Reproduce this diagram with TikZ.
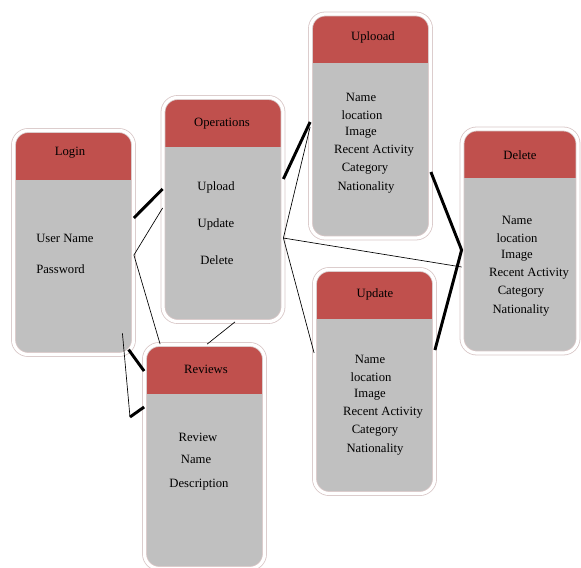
\documentclass[tikz,border=0pt]{standalone}
\usepackage{fontspec}
\setmainfont{Liberation Serif}
\usetikzlibrary{calc}
\definecolor{HeadRed}{HTML}{C0504D}
\definecolor{BodyGray}{HTML}{C0C0C0}
\definecolor{RingEdge}{HTML}{D8C6C6}

\begin{document}
\begin{tikzpicture}[
    x=0.75pt,y=-0.75pt,
    ebox/.style={rectangle,rounded corners=11pt,fill=BodyGray,draw=RingEdge,line width=0.6pt,
      double=white,double distance=2.4pt,minimum width=90pt,minimum height=168pt,inner sep=0pt,
      path picture={\fill[HeadRed,sharp corners] (path picture bounding box.north west) rectangle ([yshift=-37pt]path picture bounding box.north east);}},
    tnode/.style={inner sep=0pt,font=\fontsize{9.5}{11}\selectfont},
    fnode/.style={inner sep=0pt,font=\fontsize{9.5}{11}\selectfont},
    link/.style={line width=0.5pt},
    boldlink/.style={line width=2.2pt}
  ]
  \useasboundingbox (0,0) rectangle (581,567);
  % Tables
  \node[ebox] (login) at (73.5,242.5) {};
  \node[ebox] (ops) at (223,209.5) {};
  \node[ebox] (upl) at (370.5,126) {};
  \node[ebox] (upd) at (374.5,381.5) {};
  \node[ebox,minimum width=87pt] (del) at (520,241) {};
  \node[ebox] (rev) at (204.5,456.5) {};
  % Titles
  \node[tnode] (loginT) at (70,153) {Login};
  \node[tnode] (opsT) at (222,124) {Operations};
  \node[tnode] (uplT) at (373,37) {Uplooad};
  \node[tnode] (updT) at (375,294) {Update};
  \node[tnode] (delT) at (520,155) {Delete};
  \node[tnode] (revT) at (206,369) {Reviews};
  % Login fields
  \node[fnode,anchor=west] (login1) at (36,238) {User Name};
  \node[fnode,anchor=west] (login2) at (36,269) {Password};
  % Operations fields
  \node[fnode] (ops1) at (216,187) {Upload};
  \node[fnode] (ops2) at (216,224) {Update};
  \node[fnode] (ops3) at (217,260) {Delete};
  % Uplooad fields
  \node[fnode] (upl1) at (361,97) {Name};
  \node[fnode] (upl2) at (362,115) {location};
  \node[fnode] (upl3) at (361,133) {Image};
  \node[fnode] (upl4) at (374,151) {Recent Activity};
  \node[fnode] (upl5) at (365,169) {Category};
  \node[fnode] (upl6) at (366,187) {Nationality};
  % Update fields
  \node[fnode] (upd1) at (370,359) {Name};
  \node[fnode] (upd2) at (371,377) {location};
  \node[fnode] (upd3) at (370,395) {Image};
  \node[fnode] (upd4) at (383,413) {Recent Activity};
  \node[fnode] (upd5) at (375,431) {Category};
  \node[fnode] (upd6) at (375,449) {Nationality};
  % Delete fields
  \node[fnode] (del1) at (517,220) {Name};
  \node[fnode] (del2) at (517,238) {location};
  \node[fnode] (del3) at (517,256) {Image};
  \node[fnode] (del4) at (529,274) {Recent Activity};
  \node[fnode] (del5) at (521,292) {Category};
  \node[fnode] (del6) at (521,310) {Nationality};
  % Reviews fields
  \node[fnode] (rev1) at (198,437) {Review};
  \node[fnode] (rev2) at (196,459) {Name};
  \node[fnode] (rev3) at (199,485) {Description};
  % Links
  \coordinate (bend) at (130,417);
  \draw[boldlink] ([yshift=18.4pt]login.east) -- ([yshift=15.4pt]ops.west);
  \draw[link] ([yshift=-9.4pt]login.east) -- ([yshift=1.1pt]ops.west);
  \draw[link] ([yshift=-9.4pt]login.east) -- ([xshift=12pt]rev.north west);
  \draw[link] ([xshift=-8.6pt,yshift=16.1pt]login.south east) -- (bend);
  \draw[boldlink] (bend) -- ([yshift=37.1pt]rev.west);
  \draw[boldlink] ([xshift=-4pt,yshift=4pt]login.south east) -- ([yshift=64.1pt]rev.west);
  \draw[link] ([xshift=9pt]ops.south) -- ([xshift=2pt]rev.north);
  \draw[boldlink] ([yshift=22.9pt]ops.east) -- ([yshift=3pt]upl.west);
  \draw[link] ([yshift=-21.4pt]ops.east) -- ([yshift=-0.75pt]upl.west);
  \draw[link] ([yshift=-21.4pt]ops.east) -- ([yshift=-19.5pt]del.west);
  \draw[link] ([yshift=-21.4pt]ops.east) -- ([yshift=21.4pt]upd.west);
  \draw[boldlink] ([yshift=-34.5pt]upl.east) -- ([yshift=-6.75pt]del.west) -- ([yshift=23.6pt]upd.east);
\end{tikzpicture}
\end{document}
